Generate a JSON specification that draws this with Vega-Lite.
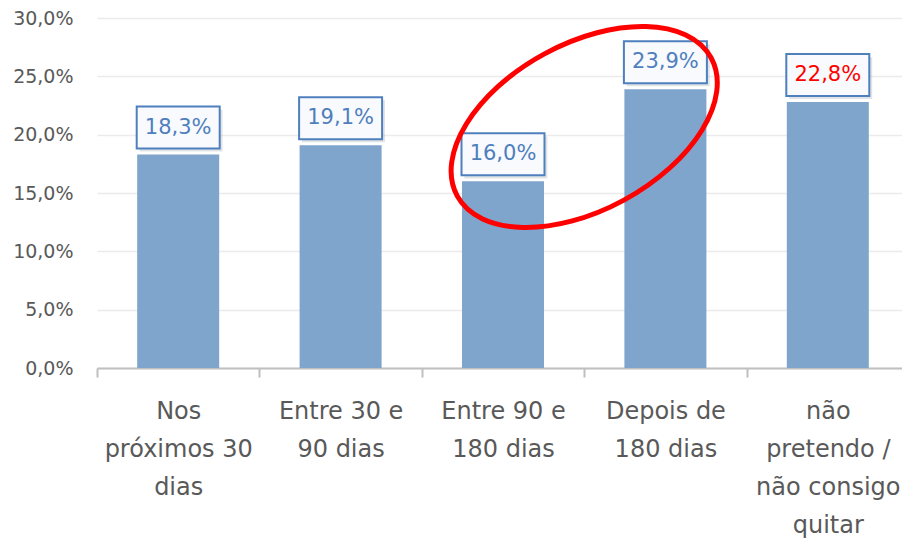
{
  "$schema": "https://vega.github.io/schema/vega-lite/v6.json",
  "width": 805,
  "height": 350,
  "autosize": {"type": "none"},
  "padding": {"left": 97, "top": 18, "right": 0, "bottom": 171},
  "background": "white",
  "config": {"view": {"stroke": null}, "font": "DejaVu Sans"},
  "datasets": {
    "barras": [
      {"categoria": "Nos próximos 30 dias", "valor": 18.3},
      {"categoria": "Entre 30 e 90 dias", "valor": 19.1},
      {"categoria": "Entre 90 e 180 dias", "valor": 16.0},
      {"categoria": "Depois de 180 dias", "valor": 23.9},
      {"categoria": "não pretendo / não consigo quitar", "valor": 22.8}
    ],
    "destaque": [{"posicao": 3, "valor": 20.66}]
  },
  "resolve": {"scale": {"x": "independent"}, "axis": {"x": "independent"}},
  "layer": [
    {
      "data": {"name": "barras"},
      "encoding": {
        "x": {
          "field": "categoria", "type": "nominal", "sort": null,
          "scale": {"paddingInner": 0, "paddingOuter": 0, "range": [0, 812]},
          "axis": {
            "title": null, "labelAngle": 0, "tickBand": "extent",
            "domainColor": "#BFBFBF", "domainWidth": 2,
            "tickColor": "#BFBFBF", "tickWidth": 2, "tickSize": 9,
            "labelFont": "DejaVu Sans", "labelFontSize": 24, "labelColor": "#595959",
            "labelLineHeight": 38, "labelPadding": 22, "labelBaseline": "top",
            "labelExpr": "datum.label == 'Nos próximos 30 dias' ? ['Nos','próximos 30','dias'] : datum.label == 'Entre 30 e 90 dias' ? ['Entre 30 e','90 dias'] : datum.label == 'Entre 90 e 180 dias' ? ['Entre 90 e','180 dias'] : datum.label == 'Depois de 180 dias' ? ['Depois de','180 dias'] : datum.label == 'não pretendo / não consigo quitar' ? ['não','pretendo /','não consigo','quitar'] : ''"
          }
        },
        "y": {
          "field": "valor", "type": "quantitative",
          "scale": {"domain": [0, 30], "nice": false},
          "axis": {
            "title": null, "values": [0, 5, 10, 15, 20, 25, 30],
            "domain": false, "ticks": false,
            "gridColor": "#EBEBEB", "gridWidth": 1.5,
            "labelFont": "DejaVu Sans", "labelFontSize": 19, "labelColor": "#595959",
            "labelPadding": 24,
            "labelExpr": "replace(format(datum.value, '.1f'), '.', ',') + '%'"
          }
        }
      },
      "layer": [
        {"mark": {"type": "bar", "width": {"band": 0.505}, "color": "#7FA5CD"}},
        {
          "mark": {
            "type": "point", "filled": true, "size": 6889,
            "shape": "M -0.93 -1.08 L 1.07 -1.08 L 1.07 -0.07 L -0.93 -0.07 Z",
            "color": "#9AA4B0", "opacity": 0.3
          }
        },
        {
          "mark": {
            "type": "point", "filled": false, "size": 6889,
            "shape": "M -1 -1.157 L 1 -1.157 L 1 -0.145 L -1 -0.145 Z",
            "fill": "#F8FAFD", "fillOpacity": 1, "stroke": "#4F7FBD", "strokeWidth": 2, "opacity": 1
          }
        },
        {
          "mark": {
            "type": "text", "dy": -27, "baseline": "middle", "align": "center",
            "font": "DejaVu Sans", "fontSize": 21,
            "text": {"expr": "replace(format(datum.valor, '.1f'), '.', ',') + '%'"}
          },
          "encoding": {
            "color": {
              "condition": {"test": "datum.categoria == 'não pretendo / não consigo quitar'", "value": "#FF0000"},
              "value": "#4F7FBD"
            }
          }
        }
      ]
    },
    {
      "data": {"name": "destaque"},
      "mark": {
        "type": "point", "filled": false, "size": 83521,
        "shape": "M 0.879 -0.477 A 1 0.576 -28.5 0 1 0.275 0.506 A 1 0.576 -28.5 0 1 -0.879 0.477 A 1 0.576 -28.5 0 1 -0.275 -0.506 A 1 0.576 -28.5 0 1 0.879 -0.477 Z",
        "stroke": "#FF0000", "strokeWidth": 5, "opacity": 1, "fill": null
      },
      "encoding": {
        "x": {
          "field": "posicao", "type": "quantitative",
          "scale": {"domain": [0, 5], "range": [0, 812], "nice": false, "zero": false},
          "axis": null
        },
        "y": {"field": "valor", "type": "quantitative"}
      }
    }
  ]
}
